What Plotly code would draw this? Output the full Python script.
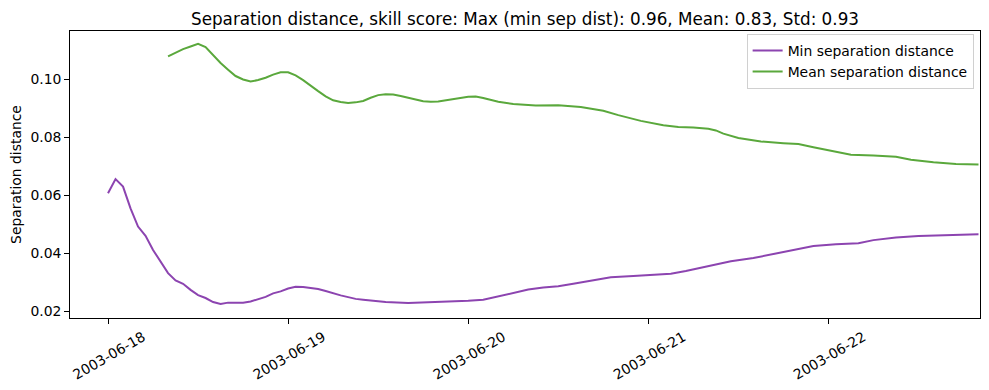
import pandas as pd
import plotly.graph_objects as go

# hours after 2003-06-18 00:00 and values
min_hours = list(range(0, 38)) + [40, 43, 46, 48, 50, 52, 54, 56, 58, 60, 62, 65, 67, 70, 73, 75, 77,
                                  79, 81, 83, 86, 89, 92, 94, 97, 100, 102, 105, 108, 110, 113, 116]
min_sep = [0.0607, 0.0656, 0.0630, 0.0555, 0.0492, 0.0460, 0.0411, 0.0371, 0.0331, 0.0306,
           0.0294, 0.0273, 0.0255, 0.0245, 0.0231, 0.0224, 0.0229, 0.0229, 0.0229, 0.0233,
           0.0242, 0.0249, 0.0261, 0.0268, 0.0278, 0.0284, 0.0283, 0.0280, 0.0276, 0.0269,
           0.0261, 0.0254, 0.0248, 0.0242, 0.0239, 0.0237, 0.0233, 0.0231,
           0.0228, 0.0230, 0.0233, 0.02355, 0.0239, 0.0250, 0.0263, 0.0274, 0.0281, 0.0286,
           0.0294, 0.0307, 0.0317, 0.0321, 0.0325, 0.0329, 0.0338, 0.0350, 0.0362, 0.0372,
           0.0383, 0.0398, 0.0413, 0.0425, 0.0431, 0.0434, 0.0445, 0.0454, 0.0459, 0.0461, 0.0462, 0.0465]

mean_hours = list(range(8, 49)) + [49, 50, 52, 54, 57, 60, 63, 66, 68, 71, 74, 76, 78, 80, 81, 82,
                                   84, 87, 90, 92, 94, 97, 99, 102, 105, 107, 110, 113, 116]
mean_sep = [0.1080, 0.1092, 0.1105, 0.1114, 0.1123, 0.1112, 0.1084, 0.1057, 0.1034, 0.1012,
            0.1000, 0.0993, 0.0998, 0.1006, 0.1017, 0.1025, 0.1025, 0.1014, 0.0998, 0.0978,
            0.0960, 0.0942, 0.0928, 0.0922, 0.0919, 0.0921, 0.0926, 0.0937, 0.0946, 0.0949,
            0.0948, 0.0943, 0.0938, 0.0931, 0.0925, 0.0923, 0.0924, 0.0928, 0.0931, 0.0936,
            0.0940,
            0.0941, 0.0936, 0.0923, 0.0915, 0.0910, 0.0911, 0.0905, 0.0892, 0.0877, 0.0857,
            0.0842, 0.0836, 0.0834, 0.0830, 0.0824, 0.0813, 0.0798, 0.0786, 0.0780, 0.0777,
            0.0766, 0.0749, 0.0740, 0.0737, 0.0733, 0.0723, 0.0714, 0.0708, 0.0706]

start = pd.Timestamp("2003-06-18 00:00")
min_time = [start + pd.Timedelta(hours=h) for h in min_hours]
mean_time = [start + pd.Timedelta(hours=h) for h in mean_hours]

PURPLE = "#8c44b0"
GREEN = "#5aa83c"
FONT = "DejaVu Sans"
FS = 13.9

fig = go.Figure()
fig.add_trace(go.Scatter(x=min_time, y=min_sep, mode="lines", name="Min separation distance",
                         line=dict(color=PURPLE, width=2)))
fig.add_trace(go.Scatter(x=mean_time, y=mean_sep, mode="lines", name="Mean separation distance",
                         line=dict(color=GREEN, width=2)))

axis_common = dict(showline=True, linecolor="black", linewidth=1, mirror=True,
                   ticks="outside", ticklen=4.9, tickwidth=1, tickcolor="black",
                   showgrid=False, zeroline=False, automargin=False,
                   tickfont=dict(family=FONT, size=FS, color="black"))

# the page adds an 8px body margin, so the figure is 981x382 placed at (8, 8)
W, H = 981, 382
fig.update_layout(
    width=W, height=H,
    margin=dict(l=62, r=9, t=23, b=72, autoexpand=False),
    paper_bgcolor="white", plot_bgcolor="white",
    font=dict(family=FONT, size=FS, color="black"),
    title=dict(text="Separation distance, skill score: Max (min sep dist): 0.96, Mean: 0.83, Std: 0.93",
               x=(62 + (W - 9)) / 2 / W, xanchor="center", y=1 - 11 / H, yanchor="middle",
               font=dict(family=FONT, size=16.8, color="black")),
    showlegend=True,
    legend=dict(x=0.993, y=0.99, xanchor="right", yanchor="top",
                bgcolor="rgba(255,255,255,0.8)", bordercolor="#d0d0d0", borderwidth=1,
                font=dict(family=FONT, size=FS, color="black"), tracegroupgap=0),
)
fig.update_xaxes(**axis_common, type="date",
                 range=["2003-06-17 18:56", "2003-06-22 20:12"],
                 tickformat="%Y-%m-%d", dtick=86400000, tick0="2003-06-18",
                 tickangle=-30, ticklabelshift=35, ticklabelstandoff=0)
fig.update_yaxes(**axis_common, range=[0.01759, 0.11676], dtick=0.02, tick0=0,
                 tickformat=".2f",
                 title=dict(text="Separation distance", standoff=10,
                            font=dict(family=FONT, size=FS, color="black")))

fig.write_html("out.html")
